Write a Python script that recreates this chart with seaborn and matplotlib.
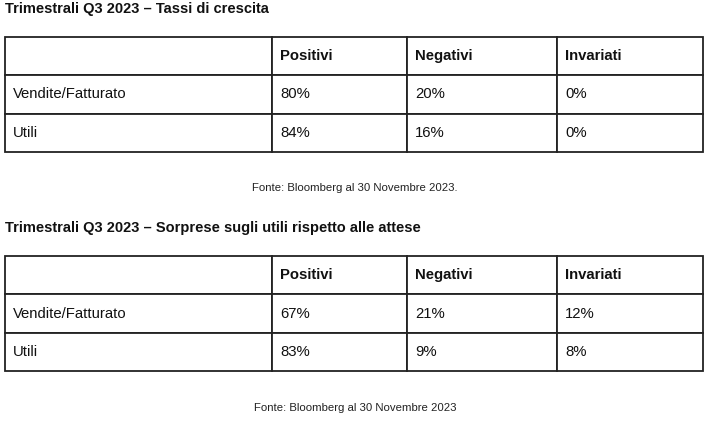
import matplotlib
matplotlib.use("Agg")
import matplotlib.pyplot as plt
import seaborn as sns
import pandas as pd

# Table data
header = ["", "Positivi", "Negativi", "Invariati"]
row_labels = ["Vendite/Fatturato", "Utili"]

crescita_positivi = [80, 84]
crescita_negativi = [20, 16]
crescita_invariati = [0, 0]

sorprese_positivi = [67, 83]
sorprese_negativi = [21, 9]
sorprese_invariati = [12, 8]

titolo_1 = "Trimestrali Q3 2023 – Tassi di crescita"
titolo_2 = "Trimestrali Q3 2023 – Sorprese sugli utili rispetto alle attese"
fonte_1 = "Fonte: Bloomberg al 30 Novembre 2023."
fonte_2 = "Fonte: Bloomberg al 30 Novembre 2023"

W, H = 707, 423
col_px = [267, 135, 150, 146]


def make_df(pos, neg, inv):
    return pd.DataFrame({"Positivi": pos, "Negativi": neg, "Invariati": inv}, index=row_labels)


def draw_table(fig, top_px, df):
    height_px = 115
    ax = fig.add_axes([5 / W, 1 - (top_px + height_px) / H, 698 / W, height_px / H])
    ax.axis("off")
    cell_text = [header] + [[r] + [f"{v}%" for v in df.loc[r]] for r in df.index]
    tbl = ax.table(
        cellText=cell_text,
        colWidths=[c / sum(col_px) for c in col_px],
        cellLoc="left",
        bbox=[0, 0, 1, 1],
    )
    tbl.auto_set_font_size(False)
    for (r, c), cell in tbl.get_celld().items():
        cell.set_edgecolor("#222222")
        cell.set_linewidth(1.3)
        cell.set_facecolor("white")
        cell.PAD = 8 / col_px[c]
        txt = cell.get_text()
        txt.set_fontsize(10.7)
        txt.set_color("#111111")
        if r == 0:
            txt.set_fontweight("bold")
    return ax


sns.set_theme(style="white")
plt.rcParams["font.family"] = ["Liberation Sans", "DejaVu Sans"]

fig = plt.figure(figsize=(W / 100, H / 100), dpi=100)
fig.patch.set_facecolor("white")

crescita = make_df(crescita_positivi, crescita_negativi, crescita_invariati)
sorprese = make_df(sorprese_positivi, sorprese_negativi, sorprese_invariati)

fig.text(5 / W, 1 - 9 / H, titolo_1, fontsize=10.5, fontweight="bold", va="center", ha="left", color="#111111")
draw_table(fig, 37, crescita)
fig.text(355 / W, 1 - 188 / H, fonte_1, fontsize=8.2, va="center", ha="center", color="#222222")

fig.text(5 / W, 1 - 228 / H, titolo_2, fontsize=10.5, fontweight="bold", va="center", ha="left", color="#111111")
draw_table(fig, 256, sorprese)
fig.text(355 / W, 1 - 408 / H, fonte_2, fontsize=8.2, va="center", ha="center", color="#222222")

fig.savefig("out.png", dpi=100, facecolor="white")
